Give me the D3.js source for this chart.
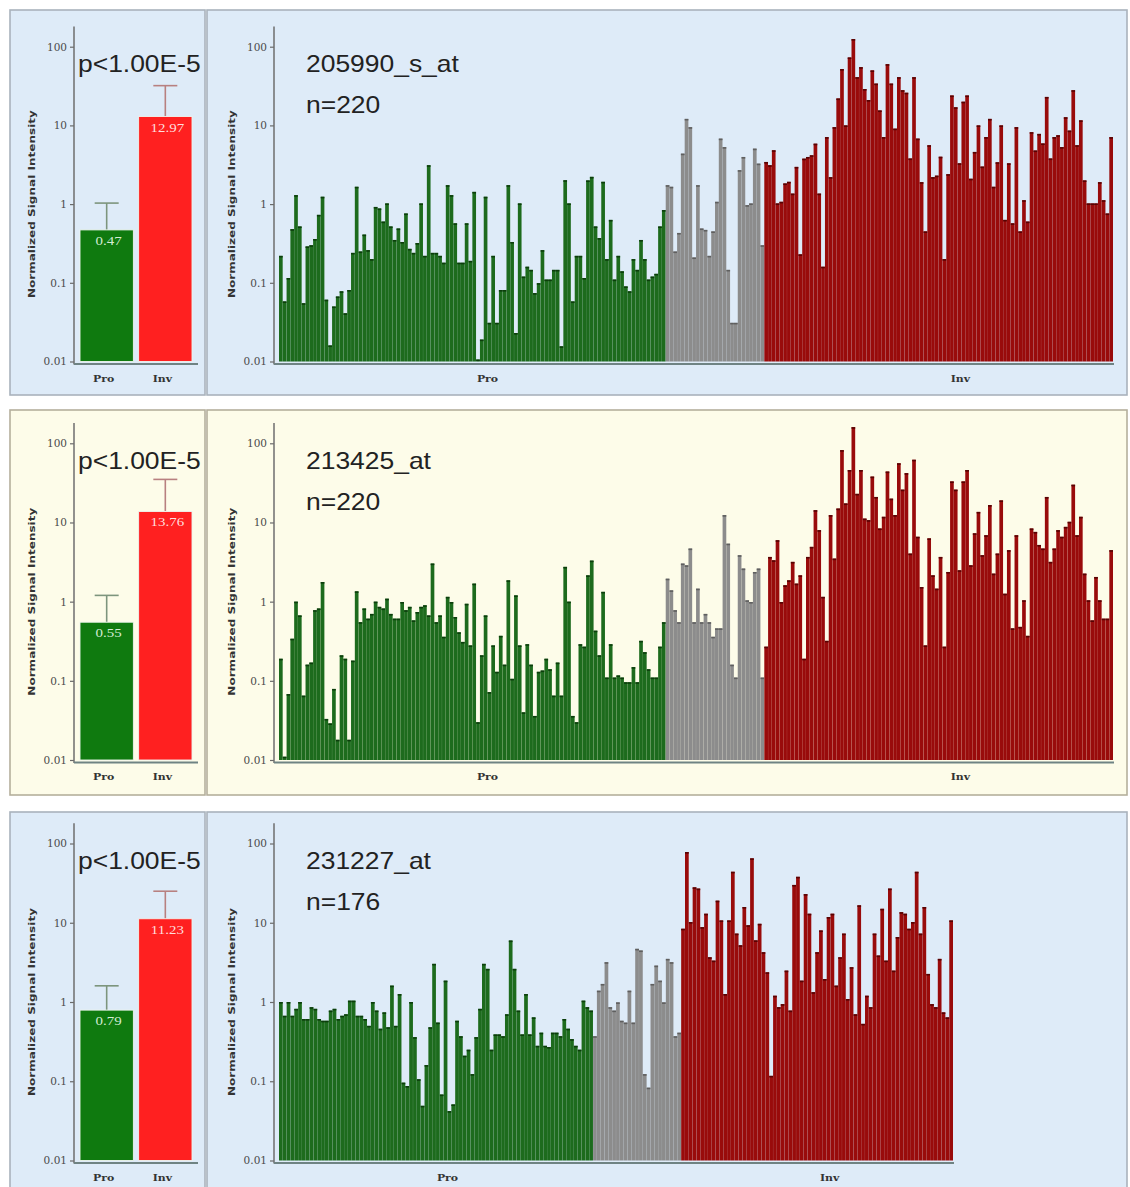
<!DOCTYPE html>
<html><head><meta charset="utf-8">
<script src="https://cdn.jsdelivr.net/npm/d3@7"></script>
<style>body{margin:0;background:#fff}</style>
</head><body>
<svg id="c" width="1130" height="1187"></svg>
<script>
// ---------- data ----------
const probeIds = ["205990_s_at","213425_at","231227_at"];
const sampleLabels = ["n=220","n=220","n=176"];
const pLabels = ["p<1.00E-5","p<1.00E-5","p<1.00E-5"];
const groups = ["Pro","Inv"];
const meanPro = [0.47,0.55,0.79];
const meanInv = [12.97,13.76,11.23];
const meanProText = ["0.47","0.55","0.79"];
const meanInvText = ["12.97","13.76","11.23"];
const errTopPro = [1.03,1.2,1.6];
const errTopInv = [32,35,25];
const yTicks = [0.01,0.1,1,10,100];
const yTickLabels = ["0.01","0.1","1","10","100"];
const yTitle = "Normalized Signal Intensity";

// probe 1 : 205990_s_at
const p1Green = [0.22,0.058,0.115,0.48,1.30,0.52,0.055,0.29,0.30,0.36,
0.73,1.24,0.061,0.016,0.05,0.067,0.078,0.041,0.081,0.24,
1.66,0.25,0.41,0.26,0.20,0.92,0.88,0.60,1.02,0.52,
0.35,0.49,0.33,0.76,0.27,0.24,0.32,1.02,0.22,3.12,
0.24,0.24,0.22,0.18,1.74,1.30,0.57,0.18,0.18,0.57,
0.19,1.43,0.0106,0.019,1.24,0.031,0.22,0.031,0.081,0.081,
1.74,0.33,0.023,1.02,0.12,0.16,0.146,0.074,0.099,0.26,
0.11,0.11,0.146,0.146,
0.0156,2.01,1.02,0.058,0.22,0.22,0.115,2.0,2.22,0.52,
0.37,1.92,0.20,0.63,0.11,0.22,0.14,0.09,0.078,0.20,
0.146,0.35,0.20,0.11,0.12,0.13,0.52,0.84];
const p1Gray = [1.74,1.66,0.25,0.43,4.38,12.1,9.5,0.21,1.74,0.49,0.47,0.22,0.45,1.07,6.8,5.3,0.146,0.031,0.031,2.7,3.97,0.97,1.02,5.07,3.27,0.30];
const p1Red = [3.43,3.12,4.83,1.02,1.07,1.83,1.92,1.36,2.97,0.23,3.78,3.97,4.17,5.86,1.36,0.16,7.1,2.2,9.5,
22,52,10,73,125,41,55,29,21,50,
34,15.5,7.1,60,34,9.1,41,28,26,3.8,
41,6.8,1.9,0.45,5.6,2.2,2.3,4.0,0.20,2.4,
24,17,3.3,20,24,2.1,4.6,10,3.0,7.1,
12.1,1.66,3.4,10,0.63,3.3,0.57,9.5,0.45,1.12,
0.60,8.2,4.8,7.8,5.9,23,3.8,7.1,7.5,5.3,
12.7,8.6,28,5.6,11.6,2.0,1.02,1.02,1.02,1.9,
1.12,0.76,7.1];

// probe 2 : 213425_at
const p2Green = [0.19,0.011,0.068,0.34,1.0,0.67,0.065,0.16,0.17,0.78,
0.82,1.77,0.033,0.029,0.079,0.018,0.21,0.19,0.018,0.18,
1.35,0.55,0.82,0.61,0.70,1.0,0.86,0.82,1.09,0.70,
0.61,0.61,0.99,0.78,0.86,0.58,0.74,0.86,0.9,0.67,
3.03,0.55,0.67,0.36,1.15,0.99,0.64,0.41,0.31,0.94,
0.28,1.69,0.030,0.21,0.67,0.072,0.28,0.13,0.37,0.16,
1.86,0.106,1.2,0.28,0.04,0.29,0.16,0.036,0.13,0.135,
0.19,0.14,0.065,0.17,
0.065,2.75,1.0,0.036,0.030,0.29,0.27,2.15,3.3,0.43,
0.21,1.33,0.11,0.29,0.11,0.117,0.11,0.096,0.096,0.149,
0.096,0.32,0.23,0.14,0.11,0.11,0.27,0.55];
const p2Gray = [1.95,1.39,0.78,0.55,3.03,2.88,4.69,0.55,1.46,0.55,0.70,0.55,0.36,0.46,0.46,12.4,5.4,0.16,0.11,3.86,2.62,1.04,0.99,2.37,2.62,0.11];
const p2Red = [0.27,3.67,3.33,5.97,0.99,1.61,1.86,3.18,1.69,2.15,0.19,3.67,4.92,14.3,8.0,1.15,0.32,12.4,3.5,
15,82,17.4,46,160,23,46,11.2,10.7,38,
21,8.4,11.8,44,20,12.4,56,26,42,4.05,
62,6.6,1.53,0.28,6.3,2.15,1.46,3.67,0.27,2.37,
33,26,2.49,33,46,2.88,7.3,13.6,3.86,6.9,
16.6,2.26,4.05,19,1.26,4.47,0.46,6.9,0.48,1.04,
0.37,8.4,7.6,5.2,4.69,21,3.18,4.69,8.0,6.6,
8.8,10.2,30,6.9,11.8,2.26,1.04,0.58,2.05,1.04,
0.61,0.61,4.47];

// probe 3 : 231227_at
const p3Green = [1.0,0.67,1.0,0.67,0.82,1.0,0.61,0.61,0.86,0.82,
0.61,0.58,0.58,0.78,0.82,0.61,0.67,0.7,1.04,1.04,
0.67,0.67,0.61,0.50,1.0,0.78,0.46,0.74,0.48,1.61,
0.5,1.26,0.096,0.087,1.0,0.36,0.106,0.049,0.16,0.48,
3.03,0.55,0.068,1.86,0.042,0.051,0.58,0.37,0.21,0.25,
0.123,0.36,0.82,3.03,2.62,0.25,0.39,
0.39,0.37,0.7,5.97,2.62,0.78,0.39,1.26,0.39,0.64,
0.28,0.41,0.28,0.27,0.41,0.41,0.37,0.61,0.46,0.34,
0.28,0.25,1.04,0.86,0.78];
const p3Gray = [0.37,1.39,1.69,3.18,0.86,0.78,0.99,0.58,0.55,1.39,0.55,4.69,4.47,0.123,0.083,1.69,2.88,1.86,0.99,3.5,3.18,0.37,0.41];
const p3Red = [8.4,78,10.2,28,27,8.8,13,3.67,3.33,19,
10.7,1.26,10.7,44,7.3,5.2,15.8,9.3,65,6.0,
9.7,4.25,2.37,0.117,1.2,0.86,0.94,2.49,0.78,30,
38,1.86,23,13,1.33,4.25,8.0,1.95,11.8,13,
1.61,3.67,7.3,1.09,2.75,0.7,16.6,0.53,1.2,0.86,
7.3,3.86,15,3.33,27,2.49,6.6,13.6,13,8.4,
10.2,44,7.3,15.8,2.26,0.94,0.86,3.5,0.74,0.64,
10.7];

// ---------- layout / style ----------
const rowTop = [10,410,812], rowBot = [395,795,1200];
const yTopPx = [46.7,443.3,843.5], yBotPx = [361.5,760,1160.5];
const plotW = [834,834,674];
const panelBg = ["#deebf8","#fdfce9","#deebf8"];
const panelStroke = ["#a9b2bc","#b5af9c","#a9b2bc"];
const barSets = [[p1Green,p1Gray,p1Red],[p2Green,p2Gray,p2Red],[p3Green,p3Gray,p3Red]];
const fillCols = ["#1d6b1d","#8c8c8c","#990b0b"];
const capCols = ["#0c3d0c","#5f5f5f","#560303"];
const sCols = ["#0f7a0f","#ff2020"], eCols = ["#7d957d","#b88080"], tCols = ["#d3ecd3","#ffdede"];
const SX = 1.15;

const svg = d3.select("#c");

function stext(g, x, y, txt, o) {
  const t = g.append("text")
    .attr("transform", `translate(${x},${y}) scale(${SX},1)`)
    .attr("font-family", o.family || "Liberation Sans, Arial, sans-serif")
    .attr("font-size", o.size)
    .attr("fill", o.fill || "#222")
    .attr("text-anchor", o.anchor || "start")
    .text(txt);
  if (o.weight) t.attr("font-weight", o.weight);
  return t;
}

function yAxis(g, x, y) {
  const ax = d3.axisLeft(y).tickValues(yTicks).tickFormat((d,i)=>yTickLabels[i]).tickSize(4).tickPadding(3);
  const a = g.append("g").attr("transform",`translate(${x},0)`).call(ax);
  a.select(".domain").remove();
  a.selectAll(".tick line").attr("stroke","#6a6a6a").attr("stroke-width",1.2);
  a.selectAll(".tick text").attr("font-family","DejaVu Serif, serif").attr("font-size",10.5).attr("fill","#4a4a4a");
  g.append("line").attr("x1",x).attr("x2",x).attr("y1",y(180)).attr("y2",y(0.01)+3)
    .attr("stroke","#6e6e6e").attr("stroke-width",1.5);
}

function yTitleText(g, x, yc) {
  g.append("text").attr("transform",`translate(${x},${yc}) rotate(-90)`)
    .attr("text-anchor","middle").attr("font-family","DejaVu Sans, sans-serif")
    .attr("font-weight","bold").attr("font-size",9.5).attr("fill","#333")
    .attr("textLength",188).attr("lengthAdjust","spacingAndGlyphs")
    .text(yTitle);
}

for (let r = 0; r < 3; r++) {
  const g = svg.append("g");
  g.append("rect").attr("x",10).attr("y",rowTop[r]).attr("width",195).attr("height",rowBot[r]-rowTop[r])
    .attr("fill",panelBg[r]).attr("stroke",panelStroke[r]).attr("stroke-width",1.6);
  g.append("rect").attr("x",207).attr("y",rowTop[r]).attr("width",920).attr("height",rowBot[r]-rowTop[r])
    .attr("fill",panelBg[r]).attr("stroke",panelStroke[r]).attr("stroke-width",1.6);

  const y = d3.scaleLog().domain([0.01,100]).range([yBotPx[r], yTopPx[r]]);
  const yMid = (yBotPx[r] + yTopPx[r]) / 2;

  // ----- summary chart -----
  const xs = d3.scaleBand().domain(groups).range([80,192]).paddingInner(0.09);
  const means = [meanPro[r], meanInv[r]], errs = [errTopPro[r], errTopInv[r]];
  const mtxt = [meanProText[r], meanInvText[r]];
  const sum = groups.map((k,i)=>({k, m:means[i], e:errs[i], t:mtxt[i], i}));
  g.selectAll(null).data(sum).join("line")
    .attr("x1",d=>xs(d.k)+xs.bandwidth()/2).attr("x2",d=>xs(d.k)+xs.bandwidth()/2)
    .attr("y1",d=>y(d.m)).attr("y2",d=>y(d.e)).attr("stroke",d=>eCols[d.i]).attr("stroke-width",1.6);
  g.selectAll(null).data(sum).join("line")
    .attr("x1",d=>xs(d.k)+xs.bandwidth()/2-12).attr("x2",d=>xs(d.k)+xs.bandwidth()/2+12)
    .attr("y1",d=>y(d.e)).attr("y2",d=>y(d.e)).attr("stroke",d=>eCols[d.i]).attr("stroke-width",1.6);
  g.selectAll(null).data(sum).join("rect")
    .attr("x",d=>xs(d.k)).attr("y",d=>y(d.m)).attr("width",xs.bandwidth())
    .attr("height",d=>y(0.01)-y(d.m)).attr("fill",d=>sCols[d.i])
    .attr("stroke","#eef4ee").attr("stroke-width",0.9);
  sum.forEach(d=>{
    stext(g, xs(d.k)+xs.bandwidth()/2+2, y(d.m)+15, d.t,
      {size:13, family:"Liberation Serif, Times New Roman, serif", fill:tCols[d.i], anchor:"middle"});
  });
  yAxis(g, 74, y);
  g.append("line").attr("x1",74).attr("x2",198).attr("y1",y(0.01)+2.5).attr("y2",y(0.01)+2.5)
    .attr("stroke","#6f8383").attr("stroke-width",2);
  sum.forEach(d=>{
    stext(g, xs(d.k)+xs.bandwidth()/2-3, y(0.01)+20, d.k,
      {size:9.5, family:"DejaVu Serif, serif", weight:"bold", fill:"#333", anchor:"middle"});
  });
  stext(g, 78, yTopPx[r]+25.3, pLabels[r], {size:23});
  yTitleText(g, 35, yMid);

  // ----- sample chart -----
  const vals = [].concat(...barSets[r].map((s,gi)=>s.map(v=>({v,gi}))));
  const xb = d3.scaleBand().domain(d3.range(vals.length)).range([279, 279+plotW[r]]).paddingInner(0.03);
  g.selectAll(null).data(vals).join("rect")
    .attr("x",(d,i)=>xb(i)).attr("y",d=>y(d.v)).attr("width",xb.bandwidth())
    .attr("height",d=>y(0.01)-y(d.v)).attr("fill",d=>fillCols[d.gi]);
  g.selectAll(null).data(vals).join("rect")
    .attr("x",(d,i)=>xb(i)).attr("y",d=>y(d.v)).attr("width",xb.bandwidth())
    .attr("height",1.6).attr("fill",d=>capCols[d.gi]);
  yAxis(g, 274, y);
  g.append("line").attr("x1",274).attr("x2",279+plotW[r]+1).attr("y1",y(0.01)+2.5).attr("y2",y(0.01)+2.5)
    .attr("stroke","#6f8383").attr("stroke-width",2);
  stext(g, 279+plotW[r]*0.25, y(0.01)+20, groups[0],
    {size:9.5, family:"DejaVu Serif, serif", weight:"bold", fill:"#333", anchor:"middle"});
  stext(g, 279+plotW[r]*0.817, y(0.01)+20, groups[1],
    {size:9.5, family:"DejaVu Serif, serif", weight:"bold", fill:"#333", anchor:"middle"});
  stext(g, 306, yTopPx[r]+25.3, probeIds[r], {size:23});
  stext(g, 306, yTopPx[r]+66.3, sampleLabels[r], {size:23});
  yTitleText(g, 235, yMid);
}
</script>
</body></html>
